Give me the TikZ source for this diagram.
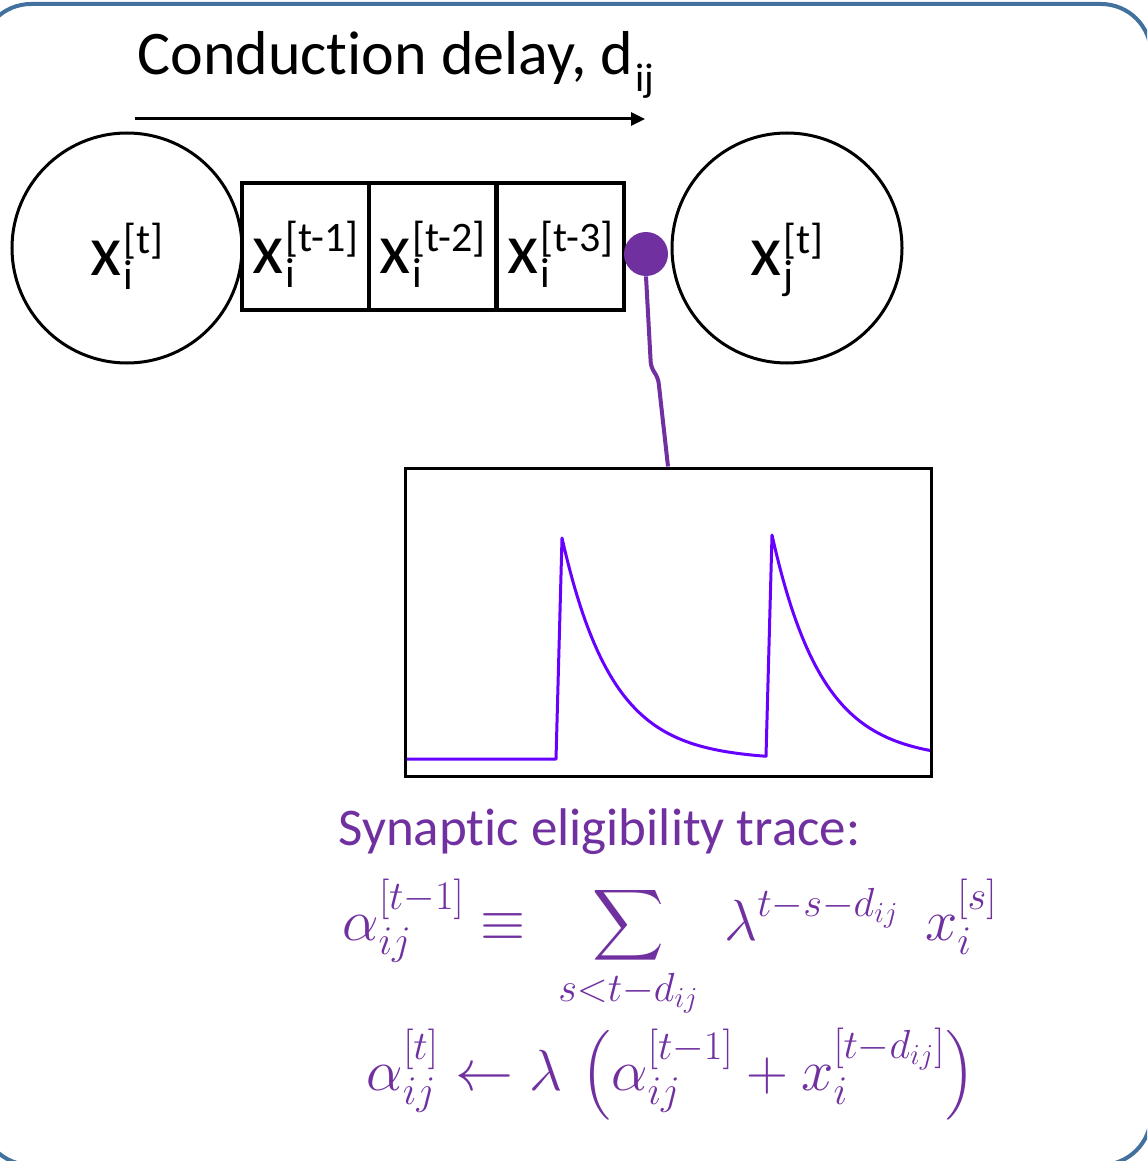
\RequirePackage{fix-cm}
\documentclass[tikz,border=0pt]{standalone}
\usepackage{amsmath}
\usepackage{fontspec}
\setmainfont{Carlito}[Ligatures=NoCommon]
\usetikzlibrary{arrows.meta}
\definecolor{frameblue}{HTML}{41719C}
\definecolor{synpurple}{HTML}{7030A0}
\definecolor{tracecol}{HTML}{6600FF}
\newcommand\xvar[2]{x\kern1pt\rlap{\raisebox{-7pt}{\fontsize{21}{21}\selectfont #1}}\raisebox{11pt}{\fontsize{21}{21}\selectfont #2}}
\begin{document}
\begin{tikzpicture}[x=0.5pt,y=-0.5pt,
  neuron/.style={circle,draw,line width=1.5pt,minimum size=115pt,inner sep=0pt,
    font=\fontsize{36}{40}\selectfont,text height=30pt,text depth=3pt},
  delaybox/.style={rectangle,draw,line width=1.9pt,minimum width=63.5pt,minimum height=63.5pt,
    inner sep=0pt,font=\fontsize{36}{40}\selectfont,text height=30pt,text depth=3pt},
  synapse/.style={circle,fill=synpurple,minimum size=22pt,inner sep=0pt},
  eq/.style={synpurple,anchor=base,inner sep=0pt,font=\fontsize{29}{35}\selectfont}]
\useasboundingbox (0,0) rectangle (1147,1161);
\begin{scope}
\clip (0,0) rectangle (1147,1161);
\draw[frameblue,line width=2pt,rounded corners=25pt] (-19,4) rectangle (1151,1165);
\end{scope}
% title and arrow
\node[anchor=base west,inner sep=0pt,font=\fontsize{31}{36}\selectfont] (title) at (137,75) {Conduction delay, d\kern1pt\raisebox{-8.5pt}{\fontsize{20}{20}\selectfont ij}};
\coordinate (arrS) at (135,119);
\coordinate (arrE) at (645,119);
\draw[-{Triangle[length=7pt,width=6.5pt]},line width=1.5pt] (arrS) -- (arrE);
% neurons and delay line
\node[neuron] (xi) at (127,248) {\xvar{i}{[t]}};
\node[delaybox] (d1) at (305.5,246.5) {\xvar{i}{[t-1]}};
\node[delaybox] (d2) at (432.5,246.5) {\xvar{i}{[t-2]}};
\node[delaybox] (d3) at (560.5,246.5) {\xvar{i}{[t-3]}};
\node[neuron] (xj) at (787,248) {\xvar{j}{[t]}};
\node[synapse] (dot) at (646,254) {};
% plot
\node[draw,line width=1.5pt,minimum width=263pt,minimum height=154pt,inner sep=0pt] (plot) at (668,622) {};
\draw[synpurple,line width=2pt,rounded corners=3pt] (dot.south) -- (651,368) -- (658,377) -- (plot.north);
\draw[tracecol,line width=1.5pt,line join=round] (407,759) -- (556,759) -- (562,538)
  -- plot[domain=562:766,samples=80] (\x,{760-222*exp(-(\x-562)/50)})
  -- (772,535)
  -- plot[domain=772:930,samples=70] (\x,{760-225*exp(-(\x-772)/50)});
% text
\node[anchor=base west,inner sep=0pt,text=synpurple,font=\fontsize{26.5}{30}\selectfont] (syn) at (338,845) {Synaptic eligibility trace:};
\node[eq] (eq1) at (670,940) {$\displaystyle \alpha_{ij}^{[t-1]} \equiv \;\sum_{s<t-d_{ij}}\; \lambda^{t-s-d_{ij}}\;\, x_i^{[s]}$};
\node[eq] (eq2) at (671,1090) {$\displaystyle \alpha_{ij}^{[t]} \leftarrow \lambda\, \left(\alpha_{ij}^{[t-1]} + x_i^{[t-d_{ij}]}\right)$};
\end{tikzpicture}
\end{document}
